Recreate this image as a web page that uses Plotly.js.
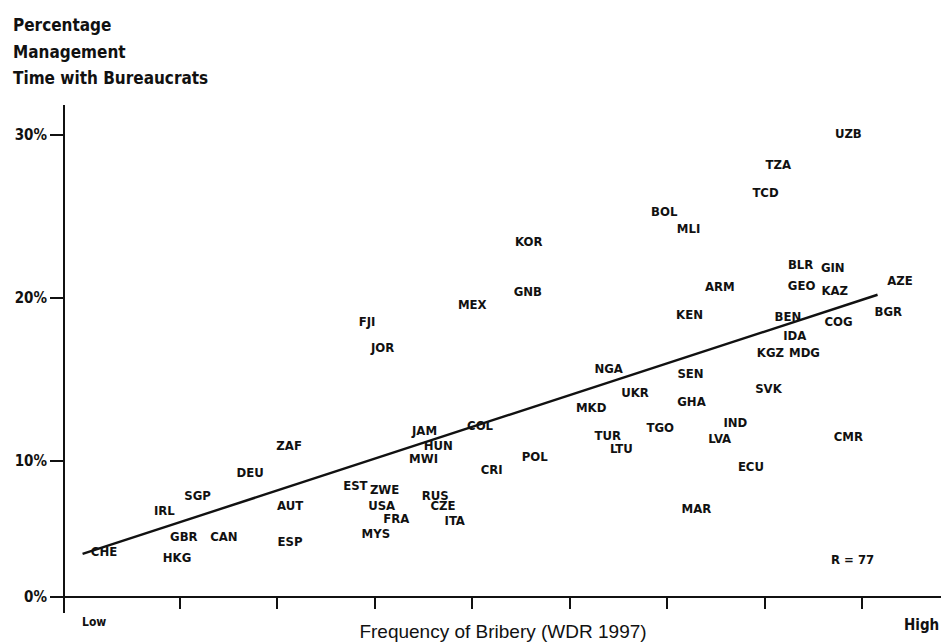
<!DOCTYPE html>
<html>
<head>
<meta charset="utf-8">
<script src="https://cdn.plot.ly/plotly-3.0.1.min.js"></script>
<style>html,body{margin:0;padding:0;background:#fff;}#chart{width:941px;height:642px;}</style>
</head>
<body>
<div id="chart"></div>
<script>
// Country codes
var countries = ["UZB","TZA","TCD","BOL","MLI","BLR","GIN","GEO","KAZ","AZE","ARM","KEN","BEN","BGR","COG","IDA","KGZ","MDG","SEN","NGA","SVK","UKR","GHA","MKD","TGO","IND","LVA","TUR","LTU","ECU","CMR","MAR","KOR","GNB","MEX","FJI","JOR","JAM","HUN","MWI","COL","CRI","POL","EST","ZWE","USA","FRA","MYS","RUS","CZE","ITA","ZAF","DEU","SGP","IRL","AUT","GBR","CAN","ESP","HKG","CHE"];
// Frequency of bribery (tick units, 1..8 = tick marks)
var bribery = [7.86,7.14,7.01,5.97,6.22,7.37,7.70,7.38,7.72,8.39,6.54,6.23,7.24,8.27,7.76,7.31,7.06,7.41,6.24,5.40,7.04,5.67,6.25,5.22,5.93,6.70,6.54,5.39,5.53,6.86,7.86,6.30,4.58,4.57,4.00,2.92,3.08,3.51,3.65,3.50,4.08,4.20,4.64,2.80,3.10,3.07,3.22,3.01,3.62,3.70,3.82,2.12,1.72,1.18,0.84,2.13,1.04,1.45,2.13,0.97,0.22];
// Percentage of management time with bureaucrats
var mgmtTime = [30.0,28.1,26.4,25.2,24.2,22.0,21.8,20.7,20.4,21.0,20.6,18.9,18.8,19.1,18.5,17.6,16.6,16.6,15.3,15.6,14.4,14.1,13.6,13.2,12.0,12.3,11.3,11.5,10.7,9.6,11.4,7.0,23.4,20.3,19.5,18.5,16.9,11.8,10.9,10.1,12.1,9.4,10.2,8.4,8.2,7.2,6.4,5.5,7.8,7.2,6.3,10.9,9.2,7.8,6.9,7.2,5.3,5.3,5.0,4.0,4.4];
// Fitted regression line endpoints
var fitX = [0.0, 8.16];
var fitY = [4.3, 20.2];
// Axis ticks
var yTickVals = [1.656, 10, 20, 30];
var yTickText = ["0%", "10%", "20%", "30%"];
var xTickVals = [1, 2, 3, 4, 5, 6, 7, 8];
// Vertical-axis heading lines
var yTitleLines = ["Percentage", "Management", "Time with Bureaucrats"];

var FONT = "'Liberation Sans Narrow', 'Arial Narrow', 'DejaVu Sans Condensed', sans-serif";
var W = 941, H = 642;
function px(x){return x/W;}
function py(y){return 1 - y/H;}

var xRange = [-0.1803, 8.811];
var yRange = [0.675, 31.84];

var traces = [
  {
    type: "scatter", mode: "lines", x: fitX, y: fitY,
    line: {color: "#111", width: 2.4}, hoverinfo: "skip", showlegend: false, cliponaxis: false
  },
  {
    type: "scatter", mode: "text", x: bribery, y: mgmtTime, text: countries,
    textposition: "middle center",
    textfont: {family: FONT, size: 13, color: "#111", weight: "bold"},
    showlegend: false, cliponaxis: false
  }
];

var annotations = [
  {xref: "paper", yref: "paper", x: px(80), y: py(622), xanchor: "left", yanchor: "middle",
   showarrow: false, text: "Low", font: {family: FONT, size: 12, color: "#111", weight: "bold"}},
  {xref: "paper", yref: "paper", x: px(941), y: py(625), xanchor: "right", yanchor: "middle",
   showarrow: false, text: "High", font: {family: FONT, size: 15, color: "#111", weight: "bold"}},
  {xref: "x", yref: "y", x: 7.90, y: 3.93, showarrow: false, text: "R = 77",
   font: {family: FONT, size: 13, color: "#111", weight: "bold"}}
];
var titleY = [25, 52, 78];
yTitleLines.forEach(function(t, i){
  annotations.push({xref: "paper", yref: "paper", x: px(11), y: py(titleY[i]), xanchor: "left", yanchor: "middle",
    showarrow: false, text: t, font: {family: FONT, size: 17, color: "#111", weight: "bold"}});
});

var layout = {
  width: W, height: H,
  margin: {l: 0, r: 0, t: 0, b: 0},
  paper_bgcolor: "#fff", plot_bgcolor: "#fff",
  showlegend: false,
  font: {family: FONT, color: "#111"},
  xaxis: {
    domain: [px(65), 1], range: xRange, anchor: "free", position: py(597),
    showline: true, linecolor: "#111", linewidth: 2,
    tickmode: "array", tickvals: xTickVals, ticks: "outside", ticklen: 11, tickwidth: 2, tickcolor: "#111",
    showticklabels: false, showgrid: false, zeroline: false, automargin: false,
    title: {text: "Frequency of Bribery (WDR 1997)", font: {family: "'Liberation Sans', Arial, sans-serif", size: 19, color: "#111"}, standoff: 16}
  },
  xaxis2: {
    overlaying: "x", domain: [px(65), 1], range: xRange, anchor: "free", position: py(597),
    showline: false, tickmode: "array", tickvals: xTickVals, ticks: "inside", ticklen: 11, tickwidth: 2, tickcolor: "#111",
    showticklabels: false, showgrid: false, zeroline: false, automargin: false
  },
  yaxis: {
    domain: [py(613), py(105)], range: yRange, anchor: "x",
    showline: true, linecolor: "#111", linewidth: 2,
    tickmode: "array", tickvals: yTickVals, ticktext: yTickText,
    ticks: "outside", ticklen: 13, tickwidth: 2, tickcolor: "#111",
    tickfont: {family: FONT, size: 15, color: "#111", weight: "bold"},
    showgrid: false, zeroline: false, automargin: false
  },
  yaxis2: {
    overlaying: "y", domain: [py(613), py(105)], range: yRange, anchor: "x",
    showline: false, tickmode: "array", tickvals: yTickVals, ticks: "inside", ticklen: 13, tickwidth: 2, tickcolor: "#111",
    showticklabels: false, showgrid: false, zeroline: false, automargin: false
  },
  annotations: annotations
};

Plotly.newPlot("chart", traces, layout, {displayModeBar: false, staticPlot: true});
</script>
</body>
</html>
